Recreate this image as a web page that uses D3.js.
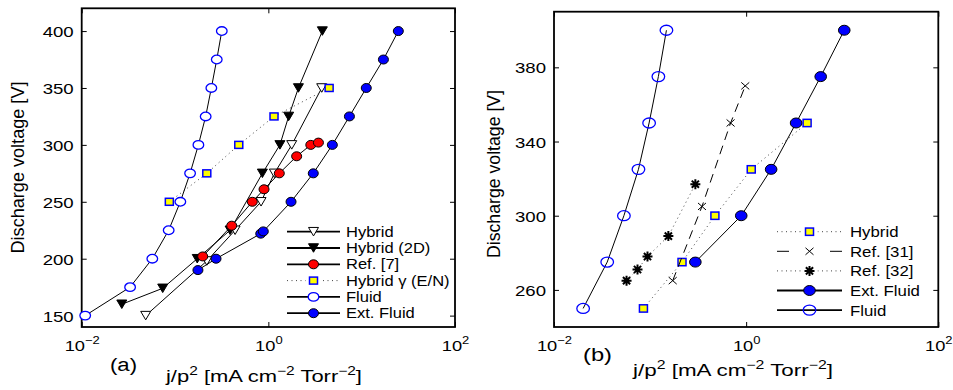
<!DOCTYPE html>
<html>
<head>
<meta charset="utf-8">
<script src="https://cdn.jsdelivr.net/npm/d3@7"></script>
<style>
body { margin: 0; background: #fff; }
svg text { font-family: "Liberation Sans", Arial, sans-serif; fill: #000; }
</style>
</head>
<body>
<svg id="chart" width="953" height="390"></svg>
<script>
// ---- panel (a) data: discharge voltage [V] vs j/p^2 ----
var hybridV   = [150, 198, 225, 250, 275, 300, 350];
var hybridJ   = [0.0485, 0.219, 0.44, 0.835, 1.16, 1.78, 3.73];
var hybrid2dV = [160, 174, 200, 225, 275, 300, 325, 350, 400];
var hybrid2dJ = [0.0269, 0.0738, 0.173, 0.389, 0.863, 1.33, 1.65, 2.10, 3.79];
var ref7V     = [202, 229, 250, 261, 275, 290, 300, 302];
var ref7J     = [0.198, 0.405, 0.673, 0.899, 1.31, 2.01, 2.85, 3.44];
var gammaV    = [250, 275, 300, 325, 350];
var gammaJ    = [0.0869, 0.219, 0.482, 1.15, 4.48];
var fluidV    = [150, 175, 200, 225, 250, 275, 300, 325, 350, 375, 400];
var fluidJ    = [0.0109, 0.0330, 0.0571, 0.0855, 0.114, 0.145, 0.178, 0.213, 0.245, 0.280, 0.317];
var extV      = [190, 200, 222, 224, 250, 275, 300, 325, 350, 375, 400];
var extJ      = [0.176, 0.275, 0.829, 0.883, 1.75, 3.03, 4.85, 7.39, 11.2, 17.1, 24.7];

// ---- panel (b) data ----
var bHybridV = [250, 275, 300, 325, 350];
var bHybridJ = [0.0853, 0.215, 0.473, 1.13, 4.31];
var ref31V   = [265, 305, 350, 370];
var ref31J   = [0.172, 0.347, 0.689, 0.979];
var ref32V   = [265, 271, 278, 289, 317];
var ref32J   = [0.0569, 0.074, 0.094, 0.155, 0.296];
var bExtV    = [275, 300, 325, 350, 375, 400];
var bExtJ    = [0.296, 0.889, 1.82, 3.31, 5.97, 10.5];
var bFluidV  = [250, 275, 300, 325, 350, 375, 400];
var bFluidJ  = [0.0201, 0.0358, 0.0534, 0.0757, 0.0977, 0.122, 0.148];

// ticks
var xTickVals = [1e-2, 1, 1e2];
var xTickExp  = ["\u22122", "0", "2"];
var aYTicks = [150, 200, 250, 300, 350, 400];
var bYTicks = [260, 300, 340, 380];

var BLUE = "#0000ff", RED = "#ff0000", YEL = "#ffff00";
var svg = d3.select("#chart");

function drawMarker(g, type, cx, cy, s) {
  if (type === "circle") {
    g.append("ellipse").attr("cx", cx).attr("cy", cy).attr("rx", s.rx).attr("ry", s.ry)
      .attr("fill", s.fill).attr("stroke", s.stroke).attr("stroke-width", s.sw);
  } else if (type === "tri") {
    var w = s.w / 2, h = s.h / 2;
    g.append("path")
      .attr("d", "M" + (cx - w) + "," + (cy - h) + "L" + (cx + w) + "," + (cy - h) + "L" + cx + "," + (cy + h) + "Z")
      .attr("fill", s.fill).attr("stroke", s.stroke).attr("stroke-width", s.sw);
  } else if (type === "square") {
    g.append("rect").attr("x", cx - s.w / 2).attr("y", cy - s.h / 2).attr("width", s.w).attr("height", s.h)
      .attr("fill", s.fill).attr("stroke", s.stroke).attr("stroke-width", s.sw);
  } else if (type === "x") {
    var a = s.w / 2, b = s.h / 2;
    g.append("path").attr("d", "M" + (cx - a) + "," + (cy - b) + "L" + (cx + a) + "," + (cy + b) +
      "M" + (cx - a) + "," + (cy + b) + "L" + (cx + a) + "," + (cy - b))
      .attr("stroke", "#000").attr("stroke-width", s.sw).attr("fill", "none");
  } else if (type === "star") {
    var r = s.w / 2, d = r * 0.72;
    g.append("path").attr("d",
      "M" + (cx - r) + "," + cy + "L" + (cx + r) + "," + cy +
      "M" + cx + "," + (cy - r) + "L" + cx + "," + (cy + r) +
      "M" + (cx - d) + "," + (cy - d) + "L" + (cx + d) + "," + (cy + d) +
      "M" + (cx - d) + "," + (cy + d) + "L" + (cx + d) + "," + (cy - d))
      .attr("stroke", "#000").attr("stroke-width", s.sw).attr("fill", "none");
  }
}

var lineStyles = {
  solid: { stroke: "#000", dash: null, w: 1 },
  dot:   { stroke: "#444", dash: "1,3.5", w: 1 },
  dash:  { stroke: "#000", dash: "9,6", w: 1 }
};

function makePanel(box, yDomain, yTicks, series, legend, texts) {
  var x = d3.scaleLog().domain([1e-2, 1e2]).range([box.left, box.right]);
  var y = d3.scaleLinear().domain(yDomain).range([box.bottom, box.top]);
  var g = svg.append("g");

  // axes (ticks point inward, like matlab)
  var bottom = g.append("g").attr("transform", "translate(0," + box.bottom + ")")
    .call(d3.axisBottom(x).tickValues(xTickVals).tickSizeInner(-5).tickSizeOuter(0)
      .tickFormat(function (d, i) { return i; }));
  g.append("g").attr("transform", "translate(0," + box.top + ")")
    .call(d3.axisTop(x).tickValues(xTickVals).tickSizeInner(-5).tickSizeOuter(0).tickFormat(""));
  var left = g.append("g").attr("transform", "translate(" + box.left + ",0)")
    .call(d3.axisLeft(y).tickValues(yTicks).tickSizeInner(-5).tickSizeOuter(0));
  g.append("g").attr("transform", "translate(" + box.right + ",0)")
    .call(d3.axisRight(y).tickValues(yTicks).tickSizeInner(-5).tickSizeOuter(0).tickFormat(""));
  g.selectAll(".domain").remove();
  g.selectAll(".tick line").attr("stroke", "#000").attr("stroke-width", 1);

  left.selectAll("text").attr("x", 0).attr("dy", "0.36em")
    .attr("font-size", 15.5).attr("font-family", null)
    .attr("transform", "translate(-8,0) scale(1.2,1)");

  bottom.selectAll("text").each(function (d, i) {
    var t = d3.select(this).text("").attr("y", 0).attr("dy", null)
      .attr("font-size", 15.5).attr("font-family", null)
      .attr("transform", "translate(0,24) scale(1.18,1)");
    t.append("tspan").text("10");
    t.append("tspan").attr("font-size", 11).attr("dy", -7).text(xTickExp[i]);
  });

  // frame
  g.append("rect").attr("x", box.left).attr("y", box.top)
    .attr("width", box.right - box.left).attr("height", box.bottom - box.top)
    .attr("fill", "none").attr("stroke", "#000").attr("stroke-width", 1.8);

  var line = d3.line().x(function (d) { return x(d[0]); }).y(function (d) { return y(d[1]); });

  series.forEach(function (s) {
    var pts = d3.zip(s.j, s.v);
    var ls = lineStyles[s.line];
    g.append("path").datum(pts).attr("d", line).attr("fill", "none")
      .attr("stroke", ls.stroke).attr("stroke-width", ls.w).attr("stroke-dasharray", ls.dash);
    var mg = g.append("g");
    pts.forEach(function (p) { drawMarker(mg, s.m, x(p[0]), y(p[1]), s.ms); });
  });

  // legend
  var lg = g.append("g");
  series.forEach(function (s, i) {
    var ly = legend.y0 + i * legend.step;
    var ls = lineStyles[s.line];
    var w = s.line === "solid" ? 1.8 : 1;
    if (s.line === "dash") {
      lg.append("line").attr("x1", legend.x1).attr("x2", legend.x1 + 12).attr("y1", ly).attr("y2", ly)
        .attr("stroke", "#000").attr("stroke-width", 1);
      lg.append("line").attr("x1", legend.x2 - 12).attr("x2", legend.x2).attr("y1", ly).attr("y2", ly)
        .attr("stroke", "#000").attr("stroke-width", 1);
    } else {
      lg.append("line").attr("x1", legend.x1).attr("x2", legend.x2).attr("y1", ly).attr("y2", ly)
        .attr("stroke", ls.stroke).attr("stroke-width", w).attr("stroke-dasharray", ls.dash);
    }
    var cx = (legend.x1 + legend.x2) / 2;
    if (s.line !== "solid") {
      lg.append("rect").attr("x", cx - 8).attr("y", ly - 6).attr("width", 16).attr("height", 12).attr("fill", "#fff");
    }
    drawMarker(lg, s.m, cx, ly, s.ms);
    lg.append("text").attr("x", 0).attr("y", 0).attr("dy", "0.36em")
      .attr("font-size", legend.fs)
      .attr("transform", "translate(" + legend.tx + "," + ly + ") scale(" + legend.sx + ",1)")
      .text(s.name);
  });

  // axis labels
  g.append("text").attr("text-anchor", "middle").attr("font-size", 18)
    .attr("textLength", texts.ylen).attr("lengthAdjust", "spacingAndGlyphs")
    .attr("transform", "translate(" + texts.yx + "," + texts.yy + ") rotate(-90)")
    .text("Discharge voltage [V]");

  var xl = g.append("text").attr("x", texts.xlx).attr("y", texts.xly).attr("font-size", 17)
    .attr("textLength", texts.xlen).attr("lengthAdjust", "spacingAndGlyphs");
  xl.append("tspan").text("j/p");
  xl.append("tspan").attr("font-size", 12).attr("dy", -7).text("2");
  xl.append("tspan").attr("dy", 7).text(" [mA cm");
  xl.append("tspan").attr("font-size", 12).attr("dy", -7).text("\u22122");
  xl.append("tspan").attr("dy", 7).text(" Torr");
  xl.append("tspan").attr("font-size", 12).attr("dy", -7).text("\u22122");
  xl.append("tspan").attr("dy", 7).text("]");

  g.append("text").attr("x", texts.px).attr("y", texts.py).attr("font-size", 18)
    .attr("textLength", texts.plen).attr("lengthAdjust", "spacingAndGlyphs")
    .text(texts.panel);
}

// marker styles
var triOpen  = { w: 10, h: 8.5, fill: "#fff", stroke: "#000", sw: 1 };
var triFill  = { w: 10, h: 8.5, fill: "#000", stroke: "#000", sw: 1 };
var cRed     = { rx: 5, ry: 4.5, fill: RED, stroke: "#000", sw: 1 };
var sqA      = { w: 8, h: 7, fill: YEL, stroke: BLUE, sw: 1.5 };
var cOpenA   = { rx: 5.3, ry: 4.3, fill: "#fff", stroke: BLUE, sw: 1.3 };
var cBlueA   = { rx: 5, ry: 4.5, fill: BLUE, stroke: "#000", sw: 1 };

makePanel({ left: 81.7, right: 455, top: 8.3, bottom: 327 }, [140, 420], aYTicks, [
  { name: "Hybrid",          j: hybridJ,   v: hybridV,   line: "solid", m: "tri",    ms: triOpen },
  { name: "Hybrid (2D)",     j: hybrid2dJ, v: hybrid2dV, line: "solid", m: "tri",    ms: triFill },
  { name: "Ref. [7]",        j: ref7J,     v: ref7V,     line: "solid", m: "circle", ms: cRed },
  { name: "Hybrid \u03b3 (E/N)", j: gammaJ, v: gammaV,   line: "dot",   m: "square", ms: sqA },
  { name: "Fluid",           j: fluidJ,    v: fluidV,    line: "solid", m: "circle", ms: cOpenA },
  { name: "Ext. Fluid",      j: extJ,      v: extV,      line: "solid", m: "circle", ms: cBlueA }
], { y0: 231.7, step: 16.3, x1: 287, x2: 340, tx: 346, fs: 14, sx: 1.18 },
{ ylen: 172, yx: 23.5, yy: 167.5, xlx: 166, xly: 382, xlen: 196, px: 110, py: 371, plen: 27, panel: "(a)" });

var sqB    = { w: 8, h: 7.3, fill: YEL, stroke: BLUE, sw: 1.5 };
var xB     = { w: 8, h: 7, sw: 1 };
var starB  = { w: 10, sw: 2 };
var cBlueB = { rx: 5.8, ry: 5, fill: BLUE, stroke: "#000", sw: 1 };
var cOpenB = { rx: 6.3, ry: 5, fill: "none", stroke: BLUE, sw: 1.3 };

makePanel({ left: 554, right: 938.3, top: 11.7, bottom: 327 }, [240, 410], bYTicks, [
  { name: "Hybrid",     j: bHybridJ, v: bHybridV, line: "dot",   m: "square", ms: sqB },
  { name: "Ref. [31]",  j: ref31J,   v: ref31V,   line: "dash",  m: "x",      ms: xB },
  { name: "Ref. [32]",  j: ref32J,   v: ref32V,   line: "dot",   m: "star",   ms: starB },
  { name: "Ext. Fluid", j: bExtJ,    v: bExtV,    line: "solid", m: "circle", ms: cBlueB },
  { name: "Fluid",      j: bFluidJ,  v: bFluidV,  line: "solid", m: "circle", ms: cOpenB }
], { y0: 231.7, step: 19.6, x1: 777, x2: 842, tx: 850, fs: 15, sx: 1.12 },
{ ylen: 168, yx: 499.5, yy: 174, xlx: 633, xly: 376, xlen: 200, px: 583, py: 361, plen: 29, panel: "(b)" });
</script>
</body>
</html>
